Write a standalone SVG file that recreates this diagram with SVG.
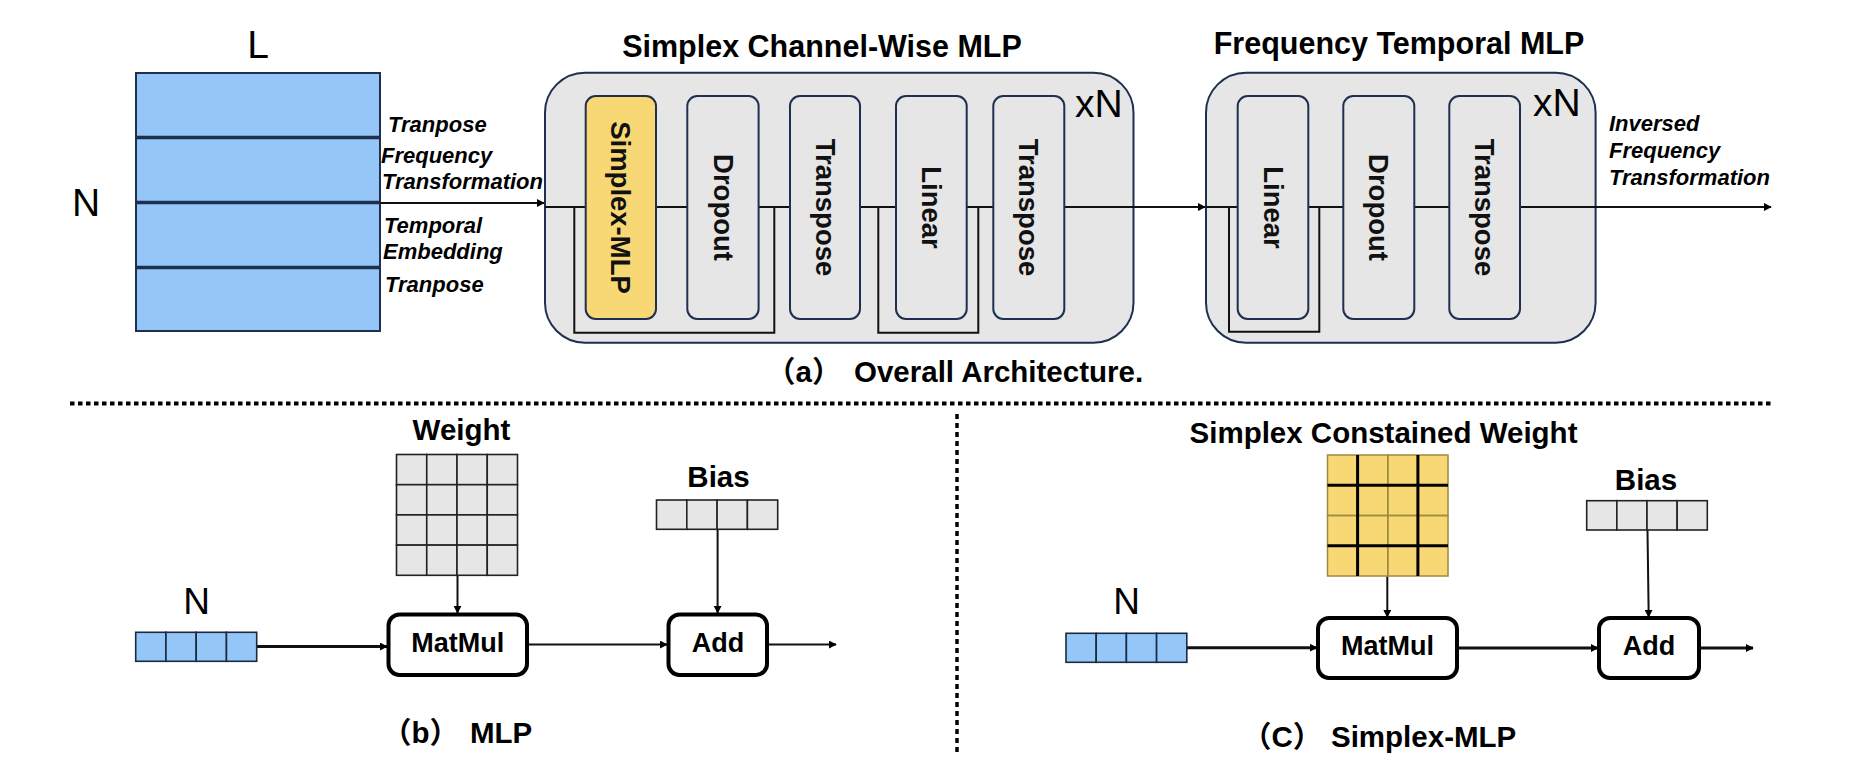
<svg xmlns="http://www.w3.org/2000/svg" width="1866" height="784" viewBox="0 0 1866 784">
<defs>
<marker id="ah" viewBox="0 0 10 10" refX="9" refY="5" markerWidth="8" markerHeight="8" markerUnits="userSpaceOnUse" orient="auto">
<path d="M0,0 L10,5 L0,10 z" fill="#000"/>
</marker>
<style>
.t{font-family:"Liberation Sans",Arial,sans-serif;fill:#000}
.b{font-weight:bold}
.bi{font-weight:bold;font-style:italic;font-size:22px}
.big{font-size:39px}
.ttl{font-weight:bold;font-size:30.5px}
.lbl{font-weight:bold;font-size:29.5px}
.cap{font-family:"Liberation Sans","Noto Sans CJK SC",sans-serif;font-weight:bold;font-size:29.5px}
.rot{font-weight:bold;font-size:27.5px;fill:#111}
.outer{fill:#e6e6e6;stroke:#1f2f4f;stroke-width:2}
.inner{fill:#e6e6e6;stroke:#1f2f4f;stroke-width:2}
.yel{fill:#f8d775;stroke:#1f2f4f;stroke-width:2}
.ln{fill:none;stroke:#111;stroke-width:2}
.arr{fill:none;stroke:#111;stroke-width:2;marker-end:url(#ah)}
.arr3{fill:none;stroke:#111;stroke-width:3;marker-end:url(#ah)}
.cellg{fill:#e6e6e6;stroke:#222;stroke-width:1.6}
.cellb{fill:#95c6f8;stroke:#1a2a40;stroke-width:1.6}
.op{fill:#fff;stroke:#000;stroke-width:4}
.opt{font-weight:bold;font-size:27px}
.dot{fill:none;stroke:#000;stroke-width:4;stroke-dasharray:4.5 3.5}
</style>
</defs>

<!-- Input tensor -->
<g id="input">
<text class="t big" x="258" y="58" text-anchor="middle">L</text>
<text class="t big" x="86" y="216" text-anchor="middle">N</text>
<rect x="136" y="73" width="244" height="258" fill="#95c6f8" stroke="#1f2f4f" stroke-width="2"/>
<line x1="136" y1="137.5" x2="380" y2="137.5" stroke="#1f2f4f" stroke-width="3.5"/>
<line x1="136" y1="202.5" x2="380" y2="202.5" stroke="#1f2f4f" stroke-width="3.5"/>
<line x1="136" y1="267.5" x2="380" y2="267.5" stroke="#1f2f4f" stroke-width="3.5"/>
</g>

<g id="prep-labels">
<text class="t bi" x="388" y="132">Tranpose</text>
<text class="t bi" x="381" y="163">Frequency</text>
<text class="t bi" x="382" y="189">Transformation</text>
<text class="t bi" x="384" y="233">Temporal</text>
<text class="t bi" x="383" y="259">Embedding</text>
<text class="t bi" x="385" y="292">Tranpose</text>
</g>

<!-- Simplex Channel-Wise MLP -->
<g id="scwmlp">
<text class="t ttl" x="822" y="57" text-anchor="middle">Simplex Channel-Wise MLP</text>
<rect class="outer" x="545" y="72.7" width="588.5" height="270" rx="40"/>
<text class="t big" x="1075" y="117">xN</text>
</g>

<!-- Frequency Temporal MLP container -->
<g id="ftmlp">
<text class="t ttl" x="1399" y="54" text-anchor="middle">Frequency Temporal MLP</text>
<rect class="outer" x="1206" y="72.7" width="389.6" height="270" rx="40"/>
<text class="t big" x="1533" y="116">xN</text>
</g>

<g id="connectors">
<line class="arr" x1="380" y1="203" x2="544" y2="203"/>
<line class="ln" x1="545" y1="207" x2="1133" y2="207"/>
<line class="arr" x1="1133" y1="207" x2="1205" y2="207"/>
<path class="ln" d="M574.3,207 V332.7 H774.3 V207"/>
<path class="ln" d="M878.3,207 V332.7 H978.3 V207"/>
<line class="ln" x1="1206" y1="207" x2="1595" y2="207"/>
<line class="arr" x1="1595" y1="207" x2="1771" y2="207"/>
<path class="ln" d="M1229,207 V331.7 H1319.3 V207"/>
<line class="arr" x1="457.5" y1="575" x2="457.5" y2="613"/>
<line class="arr" x1="717.6" y1="529" x2="717.6" y2="613"/>
<line class="arr3" x1="257" y1="646.5" x2="387" y2="646.5"/>
<line class="arr" x1="526" y1="644.5" x2="667" y2="644.5"/>
<line class="arr" x1="767" y1="644.5" x2="836" y2="644.5"/>
<line class="arr" x1="1387.3" y1="576" x2="1387.3" y2="617"/>
<line class="arr" x1="1647.5" y1="530" x2="1648.7" y2="617"/>
<line class="arr3" x1="1187" y1="647.7" x2="1317" y2="647.7"/>
<line class="arr3" x1="1457" y1="648" x2="1598" y2="648"/>
<line class="arr3" x1="1699" y1="648" x2="1753" y2="648"/>
</g>

<g id="simplex-mlp-block">
<rect class="yel" x="585.7" y="96" width="70.3" height="223" rx="10"/>
<text class="t rot" transform="rotate(90 620.8 207.5)" x="620.8" y="207.5" text-anchor="middle" dominant-baseline="central">Simplex-MLP</text>
</g>
<g id="dropout1">
<rect class="inner" x="687.3" y="96" width="71.3" height="223" rx="10"/>
<text class="t rot" transform="rotate(90 723 207.5)" x="723" y="207.5" text-anchor="middle" dominant-baseline="central">Dropout</text>
</g>
<g id="transpose1">
<rect class="inner" x="790" y="96" width="70" height="223" rx="10"/>
<text class="t rot" transform="rotate(90 825 207.5)" x="825" y="207.5" text-anchor="middle" dominant-baseline="central">Transpose</text>
</g>
<g id="linear1">
<rect class="inner" x="896" y="96" width="70.7" height="223" rx="10"/>
<text class="t rot" transform="rotate(90 931.3 207.5)" x="931.3" y="207.5" text-anchor="middle" dominant-baseline="central">Linear</text>
</g>
<g id="transpose2">
<rect class="inner" x="993.3" y="96" width="71" height="223" rx="10"/>
<text class="t rot" transform="rotate(90 1028.8 207.5)" x="1028.8" y="207.5" text-anchor="middle" dominant-baseline="central">Transpose</text>
</g>
<g id="linear2">
<rect class="inner" x="1237.7" y="96" width="70.6" height="223" rx="10"/>
<text class="t rot" transform="rotate(90 1273 207.5)" x="1273" y="207.5" text-anchor="middle" dominant-baseline="central">Linear</text>
</g>
<g id="dropout2">
<rect class="inner" x="1343.3" y="96" width="71" height="223" rx="10"/>
<text class="t rot" transform="rotate(90 1378.8 207.5)" x="1378.8" y="207.5" text-anchor="middle" dominant-baseline="central">Dropout</text>
</g>
<g id="transpose3">
<rect class="inner" x="1449.3" y="96" width="70.7" height="223" rx="10"/>
<text class="t rot" transform="rotate(90 1484.7 207.5)" x="1484.7" y="207.5" text-anchor="middle" dominant-baseline="central">Transpose</text>
</g>

<g id="post-labels">
<text class="t bi" x="1609" y="131">Inversed</text>
<text class="t bi" x="1609" y="158">Frequency</text>
<text class="t bi" x="1609" y="185">Transformation</text>
</g>

<g id="caption-a">
<text class="cap" y="382"><tspan x="766">（a）</tspan><tspan x="854">Overall Architecture.</tspan></text>
</g>

<!-- separators -->
<g id="separators">
<line class="dot" x1="70" y1="403.5" x2="1773" y2="403.5"/>
<line x1="957" y1="414" x2="957" y2="754" stroke="#000" stroke-width="3.5" stroke-dasharray="5 4"/>
</g>

<!-- (b) MLP -->
<g id="mlp-weight">
<text class="t lbl" x="461.5" y="440" text-anchor="middle">Weight</text>
<g class="cellg">
<rect x="396.5" y="454.5" width="30.25" height="30.2"/><rect x="426.75" y="454.5" width="30.25" height="30.2"/><rect x="457" y="454.5" width="30.25" height="30.2"/><rect x="487.25" y="454.5" width="30.25" height="30.2"/>
<rect x="396.5" y="484.7" width="30.25" height="30.2"/><rect x="426.75" y="484.7" width="30.25" height="30.2"/><rect x="457" y="484.7" width="30.25" height="30.2"/><rect x="487.25" y="484.7" width="30.25" height="30.2"/>
<rect x="396.5" y="514.9" width="30.25" height="30.2"/><rect x="426.75" y="514.9" width="30.25" height="30.2"/><rect x="457" y="514.9" width="30.25" height="30.2"/><rect x="487.25" y="514.9" width="30.25" height="30.2"/>
<rect x="396.5" y="545.1" width="30.25" height="30.2"/><rect x="426.75" y="545.1" width="30.25" height="30.2"/><rect x="457" y="545.1" width="30.25" height="30.2"/><rect x="487.25" y="545.1" width="30.25" height="30.2"/>
</g>
</g>
<g id="mlp-bias">
<text class="t lbl" x="718.5" y="487" text-anchor="middle">Bias</text>
<g class="cellg">
<rect x="656.5" y="500" width="30.3" height="29.3"/><rect x="686.8" y="500" width="30.3" height="29.3"/><rect x="717.1" y="500" width="30.3" height="29.3"/><rect x="747.4" y="500" width="30.3" height="29.3"/>
</g>
</g>
<g id="mlp-input">
<text class="t" x="196.5" y="614" text-anchor="middle" style="font-size:37px">N</text>
<g class="cellb">
<rect x="135.7" y="632.3" width="30.25" height="29"/><rect x="165.95" y="632.3" width="30.25" height="29"/><rect x="196.2" y="632.3" width="30.25" height="29"/><rect x="226.45" y="632.3" width="30.25" height="29"/>
</g>
</g>
<g id="mlp-matmul">
<rect class="op" x="388.5" y="614.5" width="138.5" height="60.5" rx="11"/>
<text class="t opt" x="457.7" y="652" text-anchor="middle">MatMul</text>
</g>
<g id="mlp-add">
<rect class="op" x="668.5" y="614.5" width="98.5" height="60.5" rx="11"/>
<text class="t opt" x="718" y="652" text-anchor="middle">Add</text>
</g>
<g id="caption-b">
<text class="cap" y="743"><tspan x="382">（b）</tspan><tspan x="470">MLP</tspan></text>
</g>

<!-- (c) Simplex-MLP -->
<g id="smlp-weight">
<text class="t lbl" x="1383.5" y="443" text-anchor="middle">Simplex Constained Weight</text>
<rect x="1327.5" y="455" width="120.5" height="121" fill="#f8d775"/>
<g fill="none" stroke="#a08a40" stroke-width="1.5">
<rect x="1327.5" y="455" width="60.25" height="60.5"/><rect x="1387.75" y="455" width="60.25" height="60.5"/>
<rect x="1327.5" y="515.5" width="60.25" height="60.5"/><rect x="1387.75" y="515.5" width="60.25" height="60.5"/>
</g>
<g stroke="#000" stroke-width="3">
<line x1="1357.6" y1="455" x2="1357.6" y2="576"/>
<line x1="1417.9" y1="455" x2="1417.9" y2="576"/>
<line x1="1327.5" y1="485.3" x2="1448" y2="485.3"/>
<line x1="1327.5" y1="545.8" x2="1448" y2="545.8"/>
</g>
</g>
<g id="smlp-bias">
<text class="t lbl" x="1646" y="490" text-anchor="middle">Bias</text>
<g class="cellg">
<rect x="1586.7" y="500.7" width="30.15" height="29.3"/><rect x="1616.85" y="500.7" width="30.15" height="29.3"/><rect x="1647" y="500.7" width="30.15" height="29.3"/><rect x="1677.15" y="500.7" width="30.15" height="29.3"/>
</g>
</g>
<g id="smlp-input">
<text class="t" x="1126.5" y="614" text-anchor="middle" style="font-size:37px">N</text>
<g class="cellb">
<rect x="1066" y="633.3" width="30.2" height="29"/><rect x="1096.2" y="633.3" width="30.2" height="29"/><rect x="1126.4" y="633.3" width="30.2" height="29"/><rect x="1156.6" y="633.3" width="30.2" height="29"/>
</g>
</g>
<g id="smlp-matmul">
<rect class="op" x="1318" y="618" width="139" height="60" rx="11"/>
<text class="t opt" x="1387.5" y="655" text-anchor="middle">MatMul</text>
</g>
<g id="smlp-add">
<rect class="op" x="1599" y="618" width="100" height="60" rx="11"/>
<text class="t opt" x="1649" y="655" text-anchor="middle">Add</text>
</g>
<g id="caption-c">
<text class="cap" y="747"><tspan x="1242">（C）</tspan><tspan x="1331">Simplex-MLP</tspan></text>
</g>
</svg>
